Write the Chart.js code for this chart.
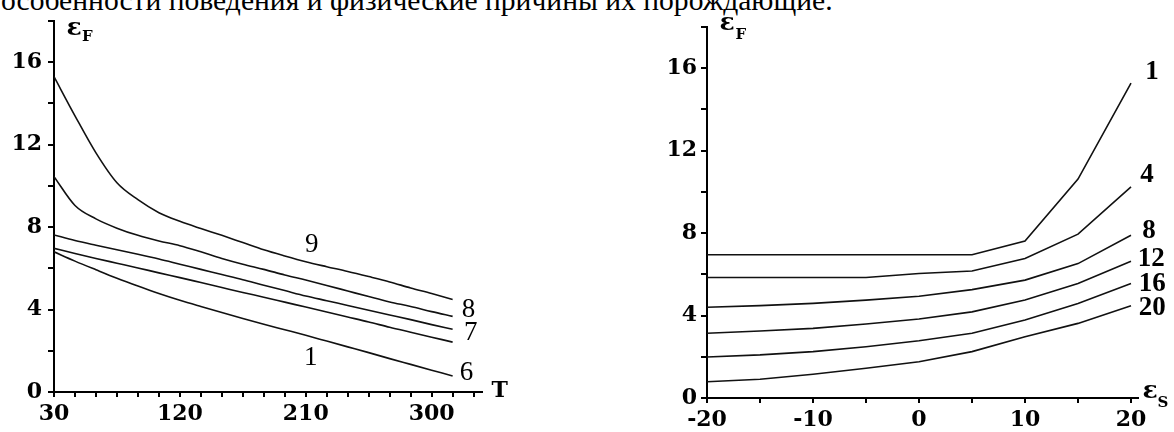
<!DOCTYPE html>
<html>
<head>
<meta charset="utf-8">
<script src="https://cdn.jsdelivr.net/npm/chart.js@4.4.1/dist/chart.umd.min.js"></script>
<style>
  html, body { margin: 0; padding: 0; background: #fff; }
  body { width: 1174px; height: 432px; position: relative; overflow: hidden; }
  #caption {
    position: absolute; left: 1px; top: -13px;
    font-family: 'Liberation Serif', 'Times New Roman', serif;
    font-size: 29px; line-height: 29px; white-space: nowrap; color: #000;
  }
  #leftChart { position: absolute; left: 0; top: 0; }
  #rightChart { position: absolute; left: 600px; top: 0; }
</style>
</head>
<body>
<div id="caption">особенности поведения и физические причины их порождающие.</div>
<canvas id="leftChart" width="540" height="432"></canvas>
<canvas id="rightChart" width="574" height="432"></canvas>
<script>
// ---- Left panel: εF versus temperature T ----
const T_VALUES = [30, 45, 60, 75, 90, 105, 120, 135, 150, 165, 180, 195, 210, 225, 240, 255, 270, 285, 300, 315];
const CURVE_T9 = [15.3, 13.4, 11.6, 10.15, 9.33, 8.7, 8.28, 7.93, 7.6, 7.25, 6.9, 6.6, 6.32, 6.08, 5.85, 5.6, 5.34, 5.05, 4.78, 4.49];
const CURVE_T8 = [10.45, 9.05, 8.4, 7.95, 7.6, 7.33, 7.1, 6.8, 6.48, 6.2, 5.95, 5.68, 5.43, 5.17, 4.9, 4.63, 4.37, 4.15, 3.9, 3.67];
const CURVE_T7 = [7.62, 7.35, 7.12, 6.9, 6.68, 6.45, 6.2, 5.95, 5.7, 5.45, 5.18, 4.92, 4.66, 4.43, 4.2, 3.97, 3.74, 3.51, 3.27, 3.04];
const CURVE_T6 = [6.97, 6.72, 6.48, 6.25, 6.02, 5.78, 5.55, 5.31, 5.07, 4.83, 4.6, 4.36, 4.12, 3.88, 3.64, 3.4, 3.14, 2.9, 2.66, 2.42];
const CURVE_T1 = [6.8, 6.35, 5.93, 5.52, 5.14, 4.78, 4.45, 4.15, 3.86, 3.57, 3.29, 3.02, 2.75, 2.47, 2.19, 1.91, 1.62, 1.34, 1.06, 0.78];
const T_TICKS = [30, 45, 60, 75, 90, 105, 120, 135, 150, 165, 180, 195, 210, 225, 240, 255, 270, 285, 300, 315, 330];
const T_TICK_LABELS = [30, 120, 210, 300];

// ---- Right panel: εF versus εS ----
const S_VALUES = [-20, -15, -10, -5, 0, 5, 10, 15, 20];
const CURVE_S1 = [6.95, 6.95, 6.95, 6.95, 6.95, 6.95, 7.62, 10.62, 15.28];
const CURVE_S4 = [5.85, 5.85, 5.85, 5.85, 6.04, 6.16, 6.77, 7.95, 10.24];
const CURVE_S8 = [4.4, 4.48, 4.59, 4.75, 4.94, 5.26, 5.72, 6.52, 7.9];
const CURVE_S12 = [3.14, 3.25, 3.38, 3.59, 3.83, 4.18, 4.75, 5.55, 6.63];
const CURVE_S16 = [1.99, 2.09, 2.25, 2.49, 2.78, 3.14, 3.78, 4.59, 5.55];
const CURVE_S20 = [0.79, 0.91, 1.15, 1.44, 1.76, 2.25, 2.97, 3.62, 4.48];
const S_TICKS = [-20, -15, -10, -5, 0, 5, 10, 15, 20];
const S_TICK_LABELS = [-20, -10, 0, 10, 20];

// shared y axis
const F_TICKS = [0, 2, 4, 6, 8, 10, 12, 14, 16, 18];
const F_TICK_LABELS = [0, 4, 8, 12, 16];

// fit the caption line to its printed width
(function () {
  const el = document.getElementById('caption');
  const target = 832;
  const w = el.getBoundingClientRect().width;
  const size = 29 * target / w;
  el.style.fontSize = size + 'px';
  el.style.lineHeight = size + 'px';
  el.style.top = (11 - 0.8375 * size) + 'px';
})();

const toPoints = (xs, ys) => xs.map((x, i) => ({ x, y: ys[i] }));

const TICK_FONT = { family: 'DejaVu Serif', weight: 'bold', size: 22 };

// draws curve numbers and axis symbols at data positions
const textPlugin = {
  id: 'panelText',
  afterDraw(chart, args, opts) {
    const { ctx } = chart;
    const xs = chart.scales.x, ys = chart.scales.y;
    ctx.save();
    ctx.fillStyle = '#000';
    ctx.textAlign = 'center';
    ctx.textBaseline = 'middle';
    for (const t of opts.items) {
      ctx.font = t.font;
      ctx.fillText(t.text, xs.getPixelForValue(t.x), ys.getPixelForValue(t.y));
    }
    ctx.restore();
  }
};

function makePanel(canvasId, cfg) {
  const datasets = cfg.series.map(s => ({
    label: s.name,
    data: toPoints(cfg.xs, s.values),
    showLine: true,
    borderColor: '#111',
    borderWidth: 1.6,
    pointRadius: 0,
    fill: false,
    cubicInterpolationMode: cfg.smooth ? 'monotone' : 'default',
    tension: 0
  }));
  return new Chart(document.getElementById(canvasId), {
    type: 'scatter',
    data: { datasets },
    plugins: [textPlugin],
    options: {
      responsive: false,
      animation: false,
      layout: { padding: { top: cfg.top, right: cfg.right, left: 0, bottom: 0 } },
      plugins: {
        legend: { display: false },
        tooltip: { enabled: false },
        panelText: { items: cfg.texts }
      },
      scales: {
        x: {
          type: 'linear',
          min: cfg.xMin, max: cfg.xMax,
          afterBuildTicks: s => { s.ticks = cfg.xTicks.map(v => ({ value: v })); },
          afterFit: s => { s.height = cfg.xAxisHeight; },
          ticks: {
            autoSkip: false, maxRotation: 0, padding: cfg.xPad,
            color: '#000', font: TICK_FONT,
            callback: v => cfg.xLabels.includes(v) ? String(v) : ''
          },
          grid: { drawOnChartArea: false, drawTicks: true, tickLength: 5, color: '#000', lineWidth: 2 },
          border: { display: true, color: '#000', width: 2 }
        },
        y: {
          type: 'linear',
          min: 0, max: 18,
          afterBuildTicks: s => { s.ticks = F_TICKS.map(v => ({ value: v })); },
          afterFit: s => { s.width = cfg.yAxisWidth; },
          ticks: {
            autoSkip: false, padding: cfg.yPad,
            color: '#000', font: TICK_FONT,
            callback: v => F_TICK_LABELS.includes(v) ? String(v) : ''
          },
          grid: { drawOnChartArea: false, drawTicks: true, tickLength: 6, color: '#000', lineWidth: 2 },
          border: { display: true, color: '#000', width: 2 }
        }
      }
    }
  });
}

const NUM_REG = '27px "Liberation Serif"';
const NUM_BOLD = 'bold 27px "Liberation Serif"';
const SYM = 'bold 25px "DejaVu Serif"';
const SUB = 'bold 15px "DejaVu Serif"';

makePanel('leftChart', {
  xs: T_VALUES,
  smooth: true,
  series: [
    { name: '9', values: CURVE_T9 },
    { name: '8', values: CURVE_T8 },
    { name: '7', values: CURVE_T7 },
    { name: '6', values: CURVE_T6 },
    { name: '1', values: CURVE_T1 }
  ],
  xMin: 30, xMax: 336,
  xTicks: T_TICKS, xLabels: T_TICK_LABELS,
  top: 21, right: 58, yAxisWidth: 54, xAxisHeight: 40,
  xPad: 4, yPad: 6,
  texts: [
    { text: '9', x: 214.3, y: 7.16, font: NUM_REG },
    { text: '1', x: 213.6, y: 1.63, font: NUM_REG },
    { text: '8', x: 326.4, y: 4.0, font: NUM_REG },
    { text: '7', x: 327.9, y: 2.89, font: NUM_REG },
    { text: '6', x: 325.0, y: 0.92, font: NUM_REG },
    { text: 'T', x: 348.6, y: 0.05, font: 'bold 22px "DejaVu Serif"' },
    { text: 'ε', x: 44.3, y: 17.65, font: SYM },
    { text: 'F', x: 53.8, y: 17.2, font: SUB }
  ]
});

makePanel('rightChart', {
  xs: S_VALUES,
  smooth: false,
  series: [
    { name: '1', values: CURVE_S1 },
    { name: '4', values: CURVE_S4 },
    { name: '8', values: CURVE_S8 },
    { name: '12', values: CURVE_S12 },
    { name: '16', values: CURVE_S16 },
    { name: '20', values: CURVE_S20 }
  ],
  xMin: -20, xMax: 20.66,
  xTicks: S_TICKS, xLabels: S_TICK_LABELS,
  top: 27, right: 36, yAxisWidth: 107, xAxisHeight: 34,
  xPad: 4, yPad: 4,
  texts: [
    { text: '1', x: 21.98, y: 15.8, font: NUM_BOLD },
    { text: '4', x: 21.5, y: 10.81, font: NUM_BOLD },
    { text: '8', x: 21.7, y: 8.09, font: NUM_BOLD },
    { text: '12', x: 21.9, y: 6.74, font: NUM_BOLD },
    { text: '16', x: 22.0, y: 5.53, font: NUM_BOLD },
    { text: '20', x: 22.0, y: 4.36, font: NUM_BOLD },
    { text: 'ε', x: -18.1, y: 18.15, font: SYM },
    { text: 'F', x: -16.8, y: 17.6, font: SUB },
    { text: 'ε', x: 21.8, y: 0.3, font: SYM },
    { text: 'S', x: 23.0, y: -0.25, font: SUB }
  ]
});
</script>
</body>
</html>
